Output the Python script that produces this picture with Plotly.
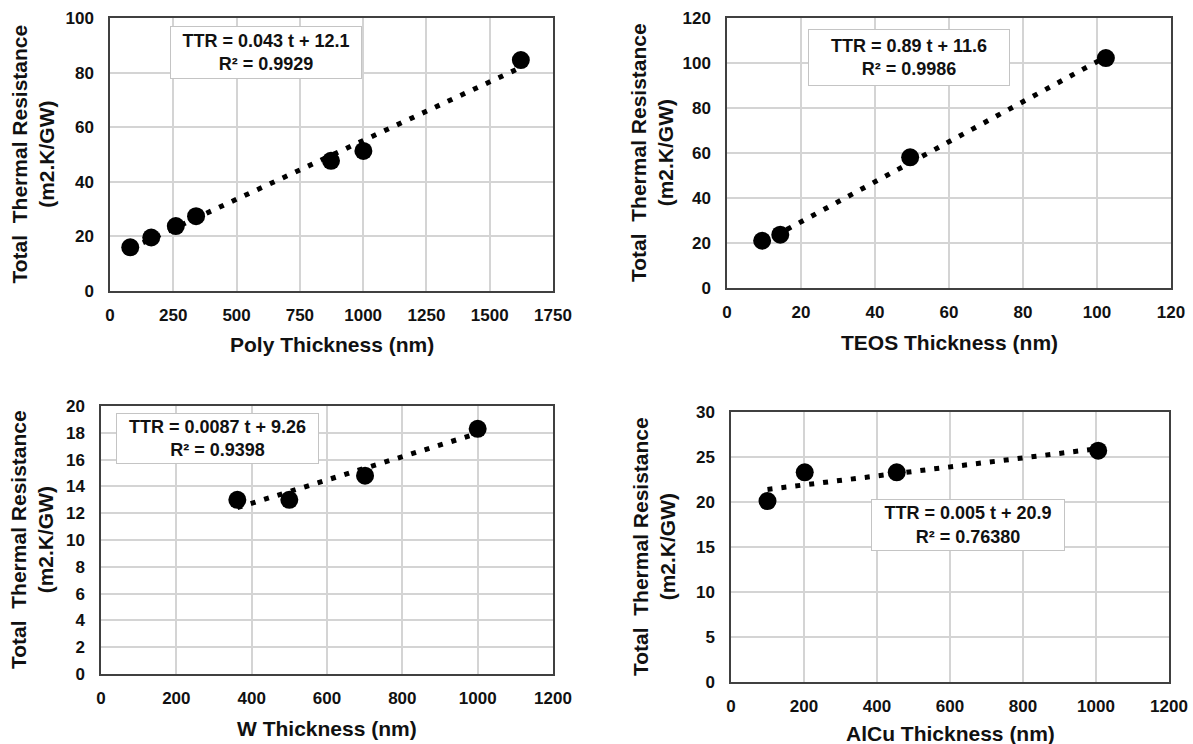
import plotly.graph_objects as go

W, H = 1193, 744

# ---- data ----
poly_t = [80, 163, 260, 340, 873, 1001, 1623]
poly_ttr = [16.0, 19.6, 23.8, 27.4, 47.7, 51.3, 84.6]
teos_t = [9.5, 14.4, 49.5, 102.4]
teos_ttr = [21.0, 23.7, 58.1, 102.2]
w_t = [362, 500, 701, 1000]
w_ttr = [13.0, 13.0, 14.8, 18.3]
alcu_t = [100, 202, 454, 1006]
alcu_ttr = [20.1, 23.3, 23.3, 25.7]

slopes = [0.043, 0.89, 0.0087, 0.005]
intercepts = [12.1, 11.6, 9.26, 20.9]
r2_labels = ["0.9929", "0.9986", "0.9398", "0.76380"]
slope_labels = ["0.043", "0.89", "0.0087", "0.005"]
intercept_labels = ["12.1", "11.6", "9.26", "20.9"]
x_titles = ["Poly Thickness (nm)", "TEOS Thickness (nm)", "W Thickness (nm)", "AlCu Thickness (nm)"]
x_ranges = [(0, 1750, 250), (0, 120, 20), (0, 1200, 200), (0, 1200, 200)]
y_ranges = [(0, 100, 20), (0, 120, 20), (0, 20, 2), (0, 30, 5)]

series = [(poly_t, poly_ttr), (teos_t, teos_ttr), (w_t, w_ttr), (alcu_t, alcu_ttr)]

# plot area pixel boxes (left, top, right, bottom)
boxes = [(110, 18, 553, 291), (727, 18, 1171, 288), (101, 406, 553, 674), (731, 412, 1169, 682)]
# equation box: center in data coords, size in px
eq_boxes = [(617, 87.4, 192, 53), (49.1, 102.3, 202, 57), (309, 17.55, 203, 51), (648, 17.4, 194, 52)]
ytitle_off = [78, 75, 69, 77]
xtitle_off = [54, 55, 54, 51]

FONT = "Liberation Sans, Arial, sans-serif"

fig = go.Figure()
layout = dict(width=W, height=H, margin=dict(l=0, r=0, t=0, b=0),
              paper_bgcolor="white", plot_bgcolor="white", showlegend=False,
              template="none")
annotations = []

for i, ((xs, ys), (l, t, r, b)) in enumerate(zip(series, boxes)):
    sfx = "" if i == 0 else str(i + 1)
    xa, ya = "x" + sfx, "y" + sfx
    # trendline
    x0, x1 = min(xs), max(xs)
    fig.add_trace(go.Scatter(x=[x0, x1], y=[slopes[i] * x0 + intercepts[i], slopes[i] * x1 + intercepts[i]],
                             mode="lines", line=dict(color="black", width=5, dash="5px,9px"),
                             xaxis=xa, yaxis=ya, hoverinfo="skip"))
    fig.add_trace(go.Scatter(x=xs, y=ys, mode="markers",
                             marker=dict(color="black", size=18, line=dict(width=0)),
                             xaxis=xa, yaxis=ya))
    xr, yr = x_ranges[i], y_ranges[i]
    axcommon = dict(showline=True, mirror=True, linecolor="#404040", linewidth=1.5,
                    showgrid=True, gridcolor="#d4d4d4", gridwidth=1.5, zeroline=False,
                    ticks="", automargin=False,
                    tickfont=dict(family=FONT, size=17, color="#111", weight="bold"))
    layout["xaxis" + sfx] = dict(axcommon, range=[xr[0], xr[1]], dtick=xr[2], tick0=0,
                                 domain=[l / W, r / W], anchor=ya, ticklabelstandoff=8)
    layout["yaxis" + sfx] = dict(axcommon, range=[yr[0], yr[1]], dtick=yr[2], tick0=0,
                                 domain=[1 - b / H, 1 - t / H], anchor=xa, ticklabelstandoff=11)
    # equation box
    cx, cy, bw, bh = eq_boxes[i]
    annotations.append(dict(
        x=cx, y=cy, xref=xa, yref=ya, showarrow=False,
        text=f"TTR = {slope_labels[i]} t + {intercept_labels[i]}<br>R² = {r2_labels[i]}",
        font=dict(family=FONT, size=18, color="#111", weight="bold"),
        bgcolor="white", bordercolor="#c4c4c4", borderwidth=1, borderpad=0,
        width=bw - 2, height=bh - 2, align="center", xanchor="center", yanchor="middle"))
    # axis titles
    annotations.append(dict(
        x=(l + r) / 2 / W, y=1 - (b + xtitle_off[i]) / H, xref="paper", yref="paper",
        showarrow=False, text=x_titles[i], xanchor="center", yanchor="middle",
        font=dict(family=FONT, size=21, color="#111", weight="bold")))
    annotations.append(dict(
        x=(l - ytitle_off[i]) / W, y=1 - (t + b) / 2 / H, xref="paper", yref="paper",
        showarrow=False, text="Total  Thermal Resistance<br>(m2.K/GW)", textangle=-90,
        xanchor="center", yanchor="middle",
        font=dict(family=FONT, size=21, color="#111", weight="bold")))

layout["annotations"] = annotations
fig.update_layout(**layout)
fig.write_html("out.html")
